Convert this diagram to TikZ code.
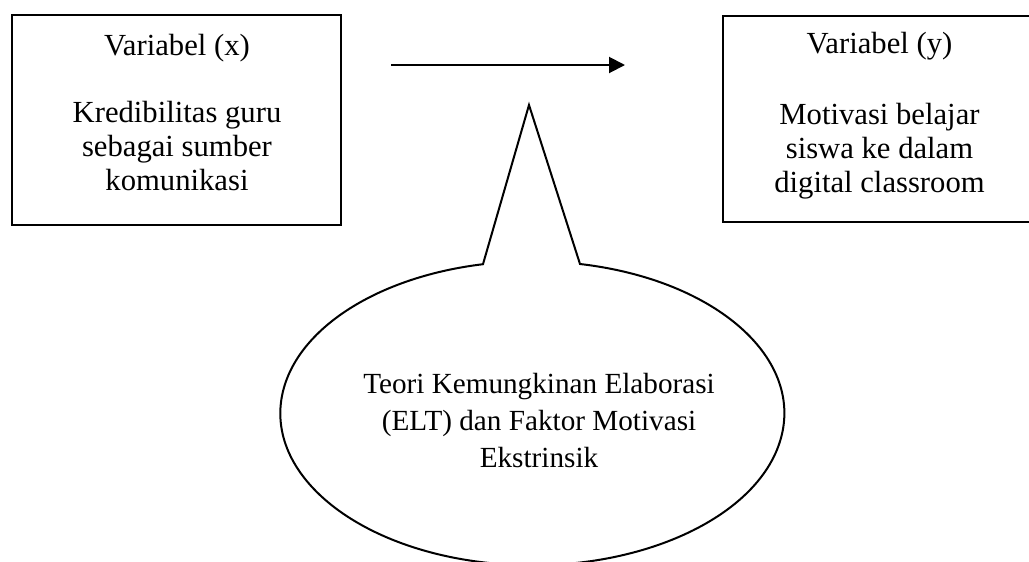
\documentclass[tikz,border=0pt]{standalone}
\usepackage{fontspec}
\setmainfont{Liberation Serif}
\usetikzlibrary{arrows.meta}
\begin{document}
\begin{tikzpicture}[x=0.75pt,y=-0.75pt,
 box/.style={draw,line width=1.5pt,inner sep=0,outer sep=0},
 boxtext/.style={font=\fontsize{23}{25.5}\selectfont,align=center,inner sep=0,anchor=base},
 elltext/.style={font=\fontsize{21.9}{27.75}\selectfont,align=center,inner sep=0,anchor=base},
 line/.style={line width=1.5pt}]
\useasboundingbox (0,0) rectangle (1029,561);
\clip (0,0) rectangle (1029,561);
\node[box,minimum width=246.75pt,minimum height=157.5pt] (bx) at (176.5,120) {};
\node[box,minimum width=234.75pt,minimum height=154.5pt] (by) at (879.5,119) {};
\node[boxtext] (tx) at (177,55) {Variabel (x)};
\node[boxtext] (kx) at (177,190) {Kredibilitas guru\\sebagai sumber\\komunikasi};
\node[boxtext] (ty) at (879.5,53) {Variabel (y)};
\node[boxtext] (ky) at (879.5,192) {Motivasi belajar\\siswa ke dalam\\digital classroom};
\coordinate (a1) at (391,65);
\coordinate (a2) at (625,65);
\draw[line,-{Triangle[length=12pt,width=12pt]}] (a1) -- (a2);
\coordinate (tip) at (529,105);
\coordinate (bR) at (580,264);
\draw[line,line join=miter] (bR) arc[start angle=79.1,end angle=-258.7,x radius=189pt,y radius=114pt] -- (tip) -- cycle;
\node[elltext] (te) at (539,467) {Teori Kemungkinan Elaborasi\\(ELT) dan Faktor Motivasi\\Ekstrinsik};
\end{tikzpicture}
\end{document}
